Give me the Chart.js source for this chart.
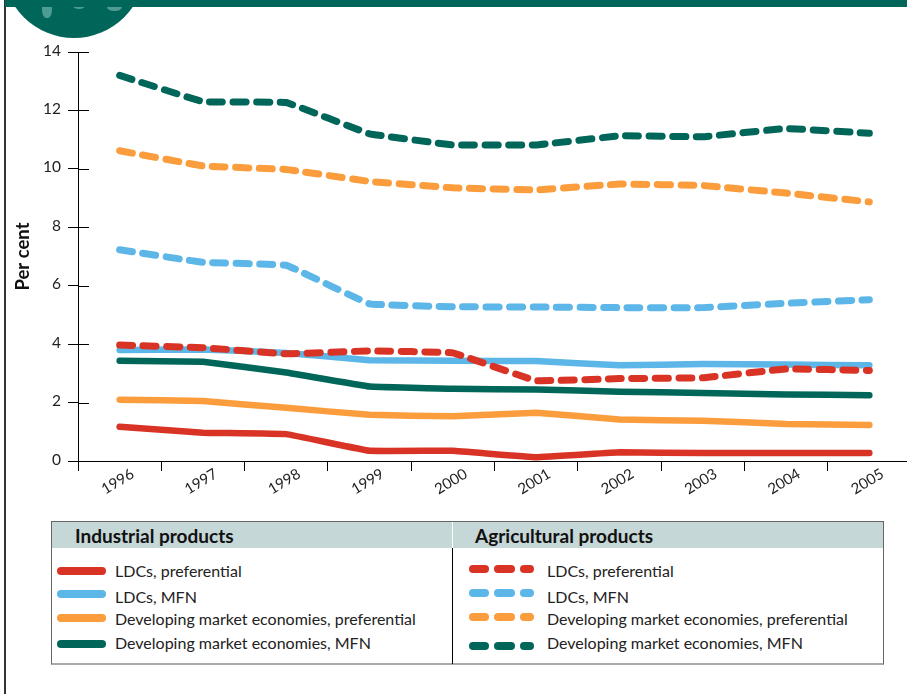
<!DOCTYPE html>
<html>
<head>
<meta charset="utf-8">
<script src="https://cdn.jsdelivr.net/npm/chart.js@4/dist/chart.umd.min.js"></script>
<style>
  html, body { margin: 0; padding: 0; background: #fff; overflow: hidden; }
  body { width: 907px; height: 694px; position: relative; font-family: Lato, sans-serif; color: #222; }
  #topbar { position: absolute; left: 5px; right: 0; top: 0; height: 7px; background: #006659; }
  #leftline { position: absolute; left: 4px; top: 0; width: 2px; height: 694px; background: #333; }
  #globe { position: absolute; left: 3px; top: -104px; width: 142px; height: 142px; border-radius: 50%; background: #006659; overflow: hidden; }
  #globe span { position: absolute; background: #4f9c95; border-radius: 45%; }
  #wrap { position: absolute; left: 0; top: 0; width: 907px; height: 510px; overflow: hidden; }
  #legend { position: absolute; left: 51px; top: 521px; width: 833px; height: 144px; box-sizing: border-box; border: 1px solid #666; border-bottom: 2px solid #aaa; }
  .col { position: absolute; top: 0; height: 142px; }
  .col h3 { margin: 0; height: 26px; line-height: 27px; background: #c5d7d6; font-size: 19px; font-weight: 700; color: #111; }
  .row { position: absolute; font-size: 16px; line-height: 18px; white-space: nowrap; color: #222; }
  .sw { position: absolute; height: 7.5px; border-radius: 4px; }
</style>
</head>
<body>
<div id="wrap"><canvas id="chart" width="930" height="510" style="width:930px;height:510px;display:block"></canvas></div>
<div id="leftline"></div>
<div id="globe"><span style="left:39px;top:104px;width:10px;height:18px"></span><span style="left:69px;top:102px;width:14px;height:11px"></span><span style="left:104px;top:106px;width:15px;height:9px"></span></div>
<div id="topbar"></div>
<div id="legend"></div>
<script>
const years = ["1996", "1997", "1998", "1999", "2000", "2001", "2002", "2003", "2004", "2005"];
const yTicks = [0, 2, 4, 6, 8, 10, 12, 14];

const indLdcPref = [1.17, 0.97, 0.92, 0.35, 0.35, 0.13, 0.3, 0.27, 0.27, 0.27];
const indLdcMfn = [3.8, 3.82, 3.7, 3.45, 3.43, 3.42, 3.28, 3.32, 3.3, 3.28];
const indDevPref = [2.1, 2.05, 1.82, 1.58, 1.53, 1.65, 1.42, 1.38, 1.27, 1.23];
const indDevMfn = [3.43, 3.4, 3.03, 2.55, 2.47, 2.45, 2.37, 2.33, 2.28, 2.25];

const agrLdcPref = [3.97, 3.88, 3.67, 3.77, 3.7, 2.75, 2.82, 2.85, 3.15, 3.1];
const agrLdcMfn = [7.23, 6.8, 6.7, 5.38, 5.28, 5.27, 5.25, 5.25, 5.4, 5.52];
const agrDevPref = [10.62, 10.1, 9.98, 9.57, 9.35, 9.28, 9.48, 9.43, 9.17, 8.87];
const agrDevMfn = [13.2, 12.3, 12.27, 11.2, 10.82, 10.82, 11.13, 11.1, 11.38, 11.22];

const labels = ["LDCs, preferential", "LDCs, MFN", "Developing market economies, preferential", "Developing market economies, MFN"];
const colors = ["#d93325", "#5db6e8", "#fb9d3c", "#006659"];

const solid = (data, i) => ({
  label: "Industrial products: " + labels[i],
  data,
  borderColor: colors[i],
  borderWidth: 6.5,
  borderCapStyle: "round",
  borderJoinStyle: "round",
  pointRadius: 0,
  tension: 0.05,
});
const dashed = (data, i) => ({
  ...solid(data, i),
  label: "Agricultural products: " + labels[i],
  borderWidth: 7,
  borderDash: [13, 10.5],
});

// little ticks on the inner side of the y axis, the library only draws the outer part
const innerTicks = {
  id: "innerTicks",
  afterDraw(chart) {
    const { ctx, scales } = chart;
    ctx.save();
    ctx.strokeStyle = "#000";
    ctx.lineWidth = 1;
    scales.y.ticks.forEach((t) => {
      const py = Math.round(scales.y.getPixelForValue(t.value)) + 0.5;
      ctx.beginPath();
      ctx.moveTo(scales.x.left, py);
      ctx.lineTo(scales.x.left + 11, py);
      ctx.stroke();
    });
    ctx.restore();
  },
};

new Chart(document.getElementById("chart"), {
  type: "line",
  data: {
    labels: years,
    // first dataset ends up on top
    datasets: [
      dashed(agrLdcPref, 0),
      dashed(agrDevMfn, 3),
      dashed(agrDevPref, 2),
      dashed(agrLdcMfn, 1),
      solid(indLdcMfn, 1),
      solid(indDevMfn, 3),
      solid(indDevPref, 2),
      solid(indLdcPref, 0),
    ],
  },
  plugins: [innerTicks],
  options: {
    responsive: false,
    animation: false,
    layout: { padding: { top: 52, left: 0, right: 19, bottom: 0 } },
    plugins: {
      legend: { display: false },
      tooltip: { enabled: false },
      title: { display: false },
    },
    scales: {
      x: {
        offset: true,
        afterFit(axis) {
          axis.height = 49;
        },
        border: { color: "#000", width: 1 },
        grid: { display: true, offset: true, drawOnChartArea: false, color: "#000", tickLength: 10 },
        ticks: {
          minRotation: 31,
          maxRotation: 31,
          autoSkip: false,
          color: "#222",
          padding: -6,
          labelOffset: 13,
          font: { family: "Lato", size: 15 },
        },
      },
      y: {
        min: 0,
        max: 14,
        afterBuildTicks(axis) {
          axis.ticks = yTicks.map((value) => ({ value }));
        },
        afterFit(axis) {
          axis.width = 78;
        },
        border: { color: "#000", width: 1 },
        grid: { display: true, drawOnChartArea: false, color: "#000", tickLength: 10 },
        title: {
          display: true,
          text: "Per cent",
          color: "#111",
          padding: { top: 12, bottom: 0 },
          font: { family: "Lato", size: 18.5, weight: "700" },
        },
        ticks: {
          color: "#222",
          padding: 7,
          labelOffset: -1.5,
          font: { family: "Lato", size: 15.5 },
        },
      },
    },
  },
});

// legend table below the chart
const legend = document.getElementById("legend");
const rowTops = [40, 66, 88, 112];
const cols = [
  { title: "Industrial products", left: 0, width: 400, pad: 23, textLeft: 63, swatchTops: [45, 68, 92, 118], dashes: [[5, 49]] },
  { title: "Agricultural products", left: 401, width: 430, pad: 22, textLeft: 94, swatchTops: [43, 67, 91, 120], dashes: [[16, 20], [41, 21], [67, 14]] },
];
cols.forEach((c) => {
  const col = document.createElement("div");
  col.className = "col";
  col.style.left = c.left + "px";
  col.style.width = c.width + "px";
  col.innerHTML = `<h3 style="padding-left:${c.pad}px">${c.title}</h3>`;
  labels.forEach((text, i) => {
    const row = document.createElement("div");
    row.className = "row";
    row.style.left = c.textLeft + "px";
    row.style.top = rowTops[i] + "px";
    row.textContent = text;
    col.appendChild(row);
    c.dashes.forEach(([x, w]) => {
      const s = document.createElement("div");
      s.className = "sw";
      s.style.left = x + "px";
      s.style.width = w + "px";
      s.style.top = c.swatchTops[i] + "px";
      s.style.background = colors[i];
      col.appendChild(s);
    });
  });
  legend.appendChild(col);
});
const sep = document.createElement("div");
sep.style.cssText = "position:absolute;left:400px;top:0;width:1px;height:26px;background:#fff";
legend.appendChild(sep);
const sep2 = document.createElement("div");
sep2.style.cssText = "position:absolute;left:400px;top:26px;width:1px;height:116px;background:#000";
legend.appendChild(sep2);
</script>
</body>
</html>
